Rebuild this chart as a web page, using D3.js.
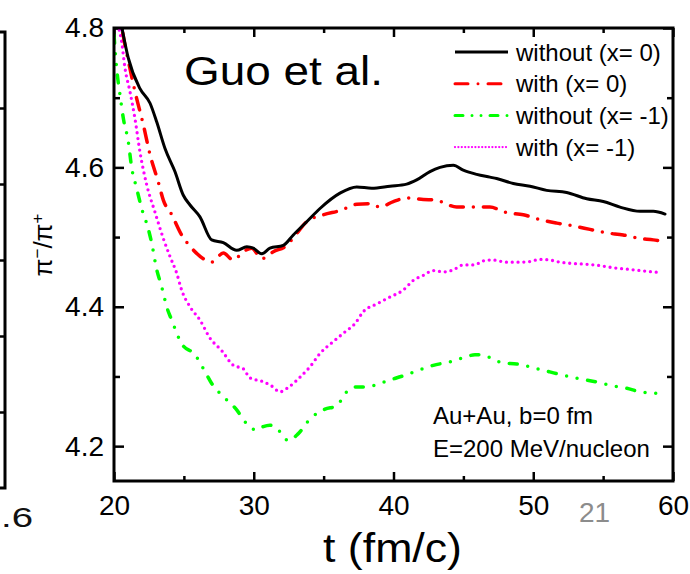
<!DOCTYPE html>
<html>
<head>
<meta charset="utf-8">
<script src="https://cdn.jsdelivr.net/npm/d3@7"></script>
<style>
  body { margin: 0; background: #fff; }
  svg { display: block; }
  text { font-family: "Liberation Sans", Arial, sans-serif; }
</style>
</head>
<body>
<script>
// ---- data ---------------------------------------------------------------
const xTicks = [20, 30, 40, 50, 60];
const xMinorTicks = [25, 35, 45, 55];
const yTicks = [4.2, 4.4, 4.6, 4.8];
const yMinorTicks = [4.3, 4.5, 4.7];

const seriesNames = ["without (x= 0)", "with (x= 0)", "without (x= -1)", "with (x= -1)"];

// pi-/pi+ ratio versus time t (fm/c)
const withoutX0 = [
  [20.2, 4.84], [20.57, 4.800], [21.02, 4.757], [21.86, 4.713], [22.58, 4.692], [23.06, 4.665],
  [23.65, 4.627], [24.36, 4.594], [24.96, 4.560], [25.44, 4.546], [26.15, 4.529], [26.99, 4.496],
  [27.82, 4.492], [28.78, 4.481], [29.50, 4.486], [29.97, 4.484], [30.57, 4.476], [31.16, 4.484],
  [32.11, 4.488], [32.83, 4.503], [33.79, 4.522], [34.74, 4.541], [36.17, 4.563], [37.37, 4.572],
  [38.44, 4.570], [39.75, 4.573], [40.94, 4.576], [41.66, 4.582], [42.61, 4.594], [43.33, 4.600],
  [44.28, 4.603], [44.99, 4.596], [45.95, 4.590], [46.90, 4.586], [47.38, 4.584], [48.57, 4.577],
  [49.77, 4.573], [50.96, 4.567], [52.39, 4.564], [53.83, 4.555], [55.01, 4.551], [56.21, 4.543],
  [57.64, 4.537], [58.59, 4.537], [59.43, 4.533]
];

const withX0 = [
  [20.3, 4.84], [20.57, 4.800], [21.14, 4.742], [21.50, 4.709], [22.10, 4.661], [22.58, 4.618],
  [23.17, 4.579], [23.53, 4.553], [24.13, 4.532], [24.84, 4.503], [25.56, 4.484], [26.39, 4.469],
  [26.99, 4.464], [27.82, 4.477], [28.54, 4.467], [29.25, 4.479], [29.85, 4.484], [30.57, 4.469],
  [31.40, 4.479], [32.36, 4.488], [33.07, 4.505], [33.79, 4.522], [34.98, 4.532], [36.17, 4.538],
  [37.37, 4.547], [38.32, 4.548], [39.03, 4.543], [39.99, 4.551], [40.94, 4.556], [42.13, 4.554],
  [43.09, 4.553], [43.81, 4.547], [44.52, 4.543], [45.95, 4.543], [46.90, 4.543], [48.10, 4.535],
  [49.29, 4.532], [50.48, 4.525], [51.68, 4.520], [52.87, 4.516], [54.06, 4.511], [55.26, 4.506],
  [56.44, 4.503], [57.64, 4.498], [58.59, 4.496], [59.43, 4.493]
];

const withoutXm1 = [
  [20.0, 4.790], [20.19, 4.742], [20.43, 4.704], [20.67, 4.670], [21.02, 4.637], [21.27, 4.599],
  [21.62, 4.570], [21.98, 4.541], [22.45, 4.512], [22.70, 4.491], [23.06, 4.453], [23.41, 4.429],
  [23.77, 4.400], [24.13, 4.381], [24.84, 4.347], [25.80, 4.331], [26.51, 4.307], [26.99, 4.290],
  [27.82, 4.271], [28.78, 4.252], [29.37, 4.235], [30.21, 4.223], [30.68, 4.228], [31.16, 4.230],
  [31.76, 4.223], [32.47, 4.208], [33.19, 4.218], [34.03, 4.239], [35.10, 4.253], [35.94, 4.258],
  [36.65, 4.278], [37.25, 4.285], [37.84, 4.285], [38.55, 4.287], [39.75, 4.295], [40.70, 4.301],
  [41.66, 4.308], [42.85, 4.316], [44.04, 4.321], [44.99, 4.327], [45.83, 4.331], [46.33, 4.331],
  [47.03, 4.326], [47.86, 4.319], [48.82, 4.318], [49.89, 4.313], [50.72, 4.309], [51.68, 4.304],
  [52.75, 4.299], [53.47, 4.296], [54.54, 4.292], [55.85, 4.286], [56.69, 4.283], [57.64, 4.278],
  [58.71, 4.276], [59.43, 4.273]
];

const withXm1 = [
  [20.1, 4.830], [20.31, 4.804], [20.55, 4.780], [20.79, 4.742], [21.14, 4.709], [21.50, 4.670],
  [21.86, 4.622], [22.34, 4.575], [22.93, 4.536], [23.53, 4.498], [24.01, 4.472], [24.49, 4.448],
  [24.84, 4.424], [25.44, 4.400], [26.15, 4.381], [26.87, 4.355], [27.71, 4.337], [28.54, 4.316],
  [29.25, 4.311], [29.73, 4.298], [30.59, 4.293], [31.23, 4.287], [31.88, 4.278], [32.45, 4.284],
  [33.31, 4.299], [34.03, 4.314], [34.74, 4.333], [35.69, 4.350], [36.53, 4.364], [37.25, 4.376],
  [37.84, 4.393], [38.80, 4.404], [39.75, 4.414], [40.70, 4.424], [41.42, 4.438], [42.13, 4.445],
  [42.85, 4.452], [43.56, 4.450], [44.28, 4.453], [44.99, 4.460], [45.71, 4.460], [46.67, 4.467],
  [47.14, 4.467], [48.10, 4.464], [49.05, 4.464], [49.77, 4.465], [50.48, 4.468], [51.20, 4.467],
  [51.91, 4.464], [52.87, 4.462], [53.83, 4.461], [54.78, 4.459], [55.73, 4.456], [56.69, 4.454],
  [57.64, 4.452], [58.59, 4.450], [59.19, 4.449]
];

// ---- layout -------------------------------------------------------------
const W = 690, H = 574;
const plot = { left: 114, right: 673, top: 28, bottom: 481 };

const svg = d3.select("body").append("svg")
  .attr("width", W).attr("height", H)
  .attr("viewBox", `0 0 ${W} ${H}`);

const x = d3.scaleLinear().domain([20, 60]).range([plot.left, plot.right]);
const y = d3.scaleLinear().domain([4.15, 4.8]).range([plot.bottom, plot.top]);

// edge of the neighbouring panel on the left
const yNeighbour = d3.scaleLinear().domain([0, 6]).range([488, 32]);
const gNb = svg.append("g").attr("transform", "translate(5,0)")
  .call(d3.axisRight(yNeighbour).tickValues([1, 2, 3, 4, 5]).tickSize(-6).tickFormat(""));
gNb.select(".domain").remove();
gNb.selectAll(".tick line").attr("stroke", "#000").attr("stroke-width", 2.5);
svg.append("path")
  .attr("d", `M0,${yNeighbour(6)}H5V${yNeighbour(0)}H0`)
  .attr("fill", "none").attr("stroke", "#000").attr("stroke-width", 3);
svg.append("text").attr("x", 1).attr("y", 527)
  .attr("font-size", 28).attr("textLength", 32).attr("lengthAdjust", "spacingAndGlyphs")
  .attr("fill", "#111").text(".6");

// ---- axes ---------------------------------------------------------------
function styleAxis(g) {
  g.select(".domain").remove();
  g.selectAll(".tick line").attr("stroke", "#000").attr("stroke-width", 2.5);
  g.selectAll(".tick text").attr("fill", "#000").attr("font-size", 28)
    .attr("font-family", "'Liberation Sans', Arial, sans-serif");
}

const fmtY = d3.format(".1f");
// major ticks with labels
svg.append("g").attr("transform", `translate(0,${plot.bottom})`)
  .call(d3.axisBottom(x).tickValues(xTicks).tickSize(-9).tickPadding(14).tickFormat(d3.format("d")))
  .call(styleAxis);
svg.append("g").attr("transform", `translate(${plot.left},0)`)
  .call(d3.axisLeft(y).tickValues(yTicks).tickSize(-10).tickPadding(10).tickFormat(fmtY))
  .call(styleAxis);
// mirrored ticks on top and right
svg.append("g").attr("transform", `translate(0,${plot.top})`)
  .call(d3.axisTop(x).tickValues(xTicks).tickSize(-9).tickFormat(""))
  .call(styleAxis);
svg.append("g").attr("transform", `translate(${plot.right},0)`)
  .call(d3.axisRight(y).tickValues(yTicks).tickSize(-10).tickFormat(""))
  .call(styleAxis);
// minor ticks
svg.append("g").attr("transform", `translate(0,${plot.bottom})`)
  .call(d3.axisBottom(x).tickValues(xMinorTicks).tickSize(-5).tickFormat("")).call(styleAxis);
svg.append("g").attr("transform", `translate(0,${plot.top})`)
  .call(d3.axisTop(x).tickValues(xMinorTicks).tickSize(-5).tickFormat("")).call(styleAxis);
svg.append("g").attr("transform", `translate(${plot.left},0)`)
  .call(d3.axisLeft(y).tickValues(yMinorTicks).tickSize(-6).tickFormat("")).call(styleAxis);
svg.append("g").attr("transform", `translate(${plot.right},0)`)
  .call(d3.axisRight(y).tickValues(yMinorTicks).tickSize(-6).tickFormat("")).call(styleAxis);

// ---- curves -------------------------------------------------------------
svg.append("clipPath").attr("id", "plot-clip")
  .append("rect")
  .attr("x", plot.left).attr("y", plot.top)
  .attr("width", plot.right - plot.left).attr("height", plot.bottom - plot.top);

const styles = [
  { color: "#000000", dash: null,                   width: 3,   legendDash: null },
  { color: "#ff0000", dash: "13,10,0,10",           width: 3.5, legendDash: "13,10,0,10" },
  { color: "#00ff00", dash: "8,10.7,0,10.7,0,10.7", width: 3.5, legendDash: "8,9,0,9,0,9" },
  { color: "#ff00ff", dash: "0,5.8",                width: 3.3, legendDash: "0,3.4" }
];
const seriesData = [withoutX0, withX0, withoutXm1, withXm1];

const line = d3.line()
  .x(d => x(d[0])).y(d => y(d[1]))
  .curve(d3.curveMonotoneX);

const gLines = svg.append("g").attr("clip-path", "url(#plot-clip)");
// draw in reverse so the solid curve ends up on top
[3, 2, 1, 0].forEach(i => {
  gLines.append("path")
    .datum(seriesData[i])
    .attr("d", line)
    .attr("fill", "none")
    .attr("stroke", styles[i].color)
    .attr("stroke-width", styles[i].width)
    .attr("stroke-linecap", "round")
    .attr("stroke-linejoin", "round")
    .attr("stroke-dasharray", styles[i].dash);
});

// frame
svg.append("rect")
  .attr("x", plot.left).attr("y", plot.top)
  .attr("width", plot.right - plot.left).attr("height", plot.bottom - plot.top)
  .attr("fill", "none").attr("stroke", "#000").attr("stroke-width", 3);

// ---- legend -------------------------------------------------------------
const legend = svg.append("g");
seriesNames.forEach((name, i) => {
  const ly = 52 + i * 31.7;
  legend.append("line")
    .attr("x1", 455).attr("x2", 508).attr("y1", ly).attr("y2", ly)
    .attr("stroke", styles[i].color)
    .attr("stroke-width", i === 3 ? 2.3 : 3)
    .attr("stroke-linecap", i === 0 ? "butt" : "round")
    .attr("stroke-dasharray", styles[i].legendDash);
  legend.append("text")
    .attr("x", 516).attr("y", ly + 8.5)
    .attr("font-size", 24).attr("fill", "#000")
    .text(name);
});

// ---- annotations --------------------------------------------------------
svg.append("text").attr("x", 184).attr("y", 85)
  .attr("font-size", 40).attr("textLength", 199).attr("lengthAdjust", "spacingAndGlyphs")
  .attr("fill", "#000").text("Guo et al.");

svg.append("text").attr("x", 433).attr("y", 424)
  .attr("font-size", 24).attr("fill", "#000").text("Au+Au, b=0 fm");
svg.append("text").attr("x", 433).attr("y", 457)
  .attr("font-size", 24).attr("fill", "#000").text("E=200 MeV/nucleon");

// axis titles
svg.append("text").attr("x", 323).attr("y", 562)
  .attr("font-size", 40).attr("textLength", 139).attr("lengthAdjust", "spacingAndGlyphs")
  .attr("fill", "#000").text("t (fm/c)");

const yTitle = svg.append("text")
  .attr("transform", "translate(52,245) rotate(-90)")
  .attr("text-anchor", "middle").attr("font-size", 26).attr("fill", "#000");
yTitle.append("tspan").text("π");
yTitle.append("tspan").attr("baseline-shift", "super").attr("font-size", 17).text("−");
yTitle.append("tspan").text("/π");
yTitle.append("tspan").attr("baseline-shift", "super").attr("font-size", 17).text("+");

// page number
svg.append("text").attr("x", 579).attr("y", 522)
  .attr("font-size", 28).attr("fill", "#8c8c8c").text("21");
</script>
</body>
</html>
